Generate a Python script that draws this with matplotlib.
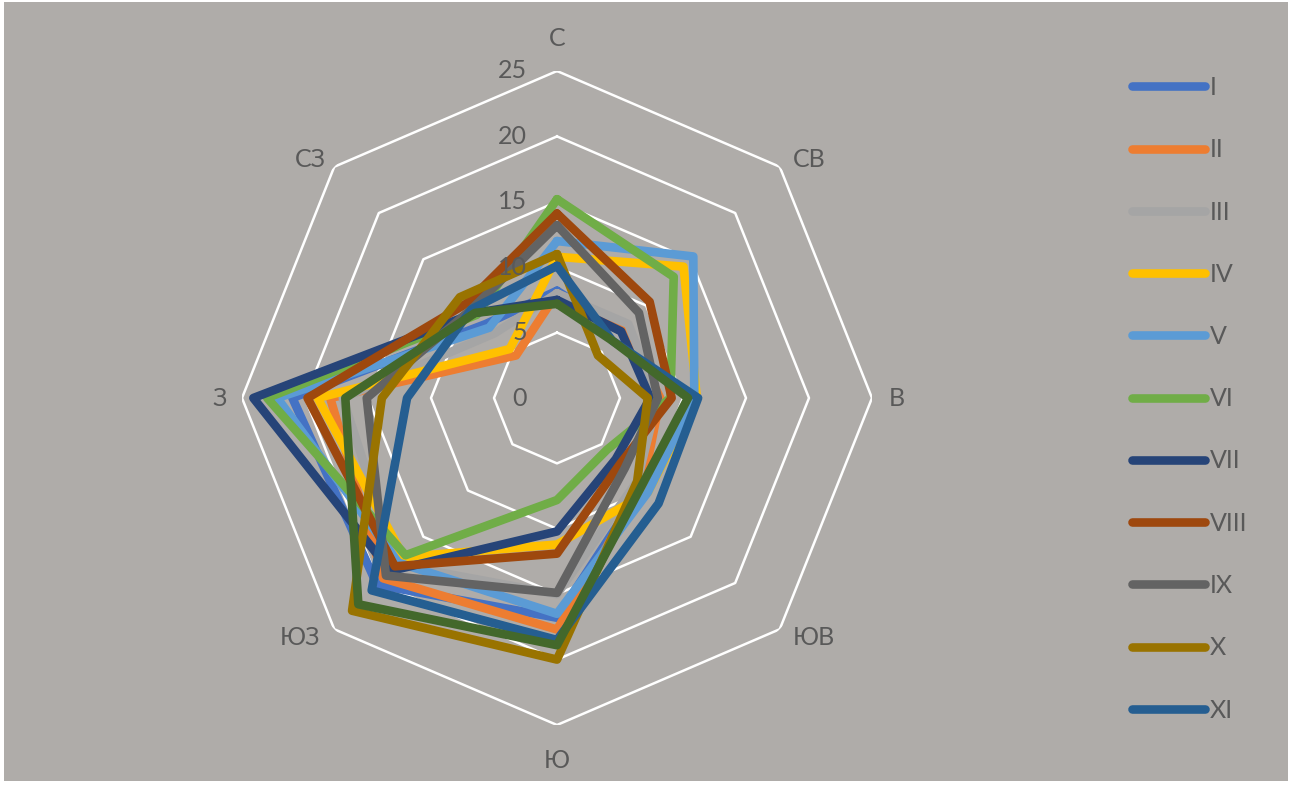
import numpy as np
import matplotlib.pyplot as plt
import matplotlib.transforms as mtransforms
from matplotlib.patches import Rectangle

# directions, clockwise from north
directions = ['С', 'СВ', 'В', 'ЮВ', 'Ю', 'ЮЗ', 'З', 'СЗ']
months = ['I', 'II', 'III', 'IV', 'V', 'VI', 'VII', 'VIII', 'IX', 'X', 'XI', 'XII']

# frequency of wind direction, %
s_I = [8.2, 7.2, 7.8, 9.6, 16.8, 20.2, 21.0, 8.0]
s_II = [8.0, 7.6, 8.2, 9.6, 17.7, 19.5, 18.0, 4.6]
s_III = [8.0, 8.0, 8.0, 9.0, 15.0, 18.0, 17.0, 7.0]
s_IV = [10.8, 14.2, 11.1, 10.2, 11.2, 17.2, 19.0, 5.3]
s_V = [12.0, 15.3, 10.9, 10.2, 16.5, 17.8, 22.2, 7.6]
s_VI = [15.2, 13.1, 9.0, 5.6, 7.8, 17.0, 23.0, 9.0]
s_VII = [7.5, 7.2, 7.4, 6.6, 10.2, 18.7, 24.1, 9.2]
s_VIII = [14.1, 10.4, 9.1, 7.1, 11.9, 18.2, 19.8, 10.2]
s_IX = [13.2, 9.2, 8.0, 7.6, 14.9, 19.2, 15.1, 9.6]
s_X = [11.0, 4.6, 7.2, 9.0, 20.0, 23.0, 13.9, 10.9]
s_XI = [10.1, 6.2, 11.2, 11.4, 18.5, 20.8, 11.9, 9.6]
s_XII = [7.2, 6.2, 10.4, 9.5, 18.9, 22.3, 16.8, 9.2]
series = [s_I, s_II, s_III, s_IV, s_V, s_VI, s_VII, s_VIII, s_IX, s_X, s_XI, s_XII]

colors = ['#4472C4', '#ED7D31', '#A5A5A5', '#FFC000', '#5B9BD5', '#70AD47',
          '#264478', '#9E480E', '#636363', '#997300', '#255E91', '#43682B']

r_ticks = [0, 5, 10, 15, 20, 25]

bg = '#AFACA9'
txt = '#595959'
plt.rcParams['font.family'] = ['Lato', 'DejaVu Sans']

fig = plt.figure(figsize=(12.94, 7.85), dpi=100, facecolor='white')
fig.patches.append(Rectangle((4 / 1294, 4 / 785), 1 - 10 / 1294, 1 - 6 / 785,
                             transform=fig.transFigure, facecolor=bg,
                             edgecolor='none', zorder=-10))

ax = fig.add_axes([242 / 1294, 60 / 785, 630 / 1294, 654 / 785], projection='polar')
ax.set_aspect('auto')
ax.set_facecolor('none')
ax.set_theta_zero_location('N')
ax.set_theta_direction(-1)
ax.set_ylim(0, 25)
ax.grid(False)
ax.spines['polar'].set_visible(False)

angles = np.linspace(0, 2 * np.pi, len(directions), endpoint=False)
closed = np.append(angles, angles[0])

# octagonal grid
for r in r_ticks[1:]:
    ax.plot(closed, [r] * len(closed), color='white', lw=1.8, zorder=1)

for name, vals, col in zip(months, series, colors):
    lab = name if name != 'XII' else '_nolegend_'
    ax.plot(closed, vals + vals[:1], color=col, lw=6.2, label=lab,
            solid_joinstyle='round', solid_capstyle='round', zorder=2)

ax.set_yticks([])
ax.set_xticks([])

# direction names next to the outer ring (offsets in pixels)
label_off = [(0, 33), (30, 7), (25, 0), (34, -8), (0, -35), (-34, -8), (-22, 0), (-24, 7)]
for ang, name, (dx, dy) in zip(angles, directions, label_off):
    tr = ax.transData + mtransforms.ScaledTranslation(dx / 100, dy / 100, fig.dpi_scale_trans)
    ax.text(ang, r_ticks[-1], name, transform=tr, ha='center', va='center',
            fontsize=18, color=txt, clip_on=False)

shift = ax.transData + mtransforms.ScaledTranslation(-0.3, 0, fig.dpi_scale_trans)
for r in r_ticks:
    ax.text(0, r, str(r), transform=shift, ha='right', va='center',
            fontsize=18, color=txt)

fig.legend(loc='upper left', bbox_to_anchor=(1132 / 1294, 1 - 76 / 785),
           frameon=False, fontsize=18, labelcolor=txt, borderpad=0,
           borderaxespad=0, handlelength=2.9, handletextpad=0.2,
           labelspacing=1.57)

fig.savefig('out.png', dpi=100, facecolor=fig.get_facecolor())
